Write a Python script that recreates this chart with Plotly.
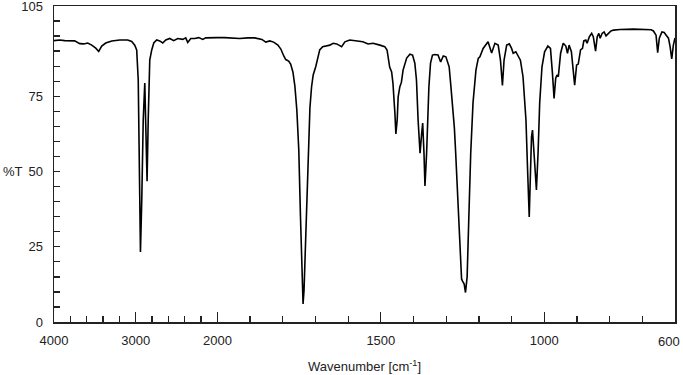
import plotly.graph_objects as go

# IR spectrum (wavenumber in cm-1, transmittance in %T)
wavenumber = [
    4000, 3930, 3869, 3808, 3747, 3685, 3636, 3587, 3538, 3489, 3453, 3416, 3367, 3293,
    3196, 3098, 3049, 3012, 2988, 2969, 2957, 2942, 2926, 2908, 2889, 2875, 2861, 2847,
    2828, 2804, 2779, 2743, 2706, 2669, 2632, 2583, 2535, 2486, 2424, 2388, 2363, 2326,
    2277, 2228, 2179, 2143, 2094, 2045, 2000,
    1978, 1956, 1932, 1907, 1886, 1864, 1852, 1840, 1828, 1815, 1806, 1797, 1791, 1782,
    1776, 1769, 1763, 1757, 1751, 1746, 1741, 1738, 1735, 1731, 1728, 1723, 1717, 1712,
    1707, 1699, 1692, 1687, 1678, 1665, 1656, 1646, 1635, 1620, 1610, 1595, 1574, 1555,
    1539, 1524, 1503, 1488, 1481, 1476, 1473, 1467, 1463, 1457, 1454, 1450, 1447, 1442,
    1437, 1432, 1421, 1411, 1403, 1396, 1391, 1386, 1380, 1375, 1372, 1368, 1365, 1360,
    1357, 1353, 1348, 1342, 1335, 1325, 1317, 1309, 1301, 1291, 1286, 1281, 1275, 1271,
    1264, 1256, 1253, 1250, 1245, 1241, 1236, 1231, 1225, 1218, 1209, 1202, 1197, 1187,
    1172, 1161, 1151, 1141, 1134, 1128, 1123, 1115, 1107, 1100, 1095, 1087, 1080, 1073,
    1065, 1056, 1051, 1046, 1042, 1039, 1036, 1032, 1027, 1024, 1019, 1014, 1007, 999,
    989, 981, 975, 970, 965, 961, 957, 950, 942, 934, 929, 924, 917, 913, 907, 901, 896,
    889, 883, 879, 873, 869, 862, 855, 850, 843, 838, 833, 829, 823, 817, 811, 804, 796,
    788, 768, 727, 686, 673, 666, 658, 653, 648, 640, 633, 627, 623, 620, 615, 610, 605, 600,
]
transmittance = [
    93.5, 93.7, 93.5, 93.5, 93.4, 92.5, 92.4, 92.7, 92.0, 91.0, 89.9, 91.7, 92.7, 93.4,
    93.7, 93.7, 93.2, 92.0, 90.4, 80.4, 57.1, 23.3, 40.5, 67.1, 79.4, 63.8, 46.8, 67.1,
    87.0, 90.4, 92.7, 93.7, 93.4, 92.7, 93.7, 94.2, 93.5, 94.2, 93.9, 94.4, 92.9, 94.2,
    94.2, 94.5, 93.9, 94.4, 94.5, 94.4, 94.5,
    94.5, 94.4, 94.2, 94.4, 94.4, 93.9, 93.0, 93.4, 93.0, 92.0, 90.7, 88.4, 87.2, 86.7,
    85.7, 83.1, 78.4, 70.4, 57.1, 35.5, 15.6, 6.0, 10.6, 23.9, 39.5, 58.1, 71.1, 78.1,
    82.1, 84.9, 88.0, 90.4, 91.5, 91.7, 92.0, 92.6, 92.4, 91.5, 93.1, 93.7, 93.4, 93.1,
    92.4, 92.6, 92.0, 91.5, 90.4, 87.0, 84.7, 83.1, 79.4, 69.4, 62.5, 67.1, 74.8, 78.1,
    79.7, 83.7, 87.7, 89.0, 88.7, 86.0, 80.4, 67.1, 56.1, 62.8, 66.1, 56.1, 45.2, 56.1,
    67.1, 78.1, 86.0, 88.7, 88.9, 88.7, 86.4, 88.4, 88.1, 84.8, 78.7, 72.8, 64.5, 56.1,
    39.5, 22.9, 14.3, 13.6, 12.6, 9.8, 15.0, 33.9, 56.1, 72.8, 83.7, 87.6, 88.1, 90.9,
    93.1, 89.4, 92.6, 92.0, 87.0, 78.6, 87.0, 92.0, 92.4, 90.9, 89.3, 89.8, 88.1, 87.0,
    81.5, 67.1, 50.5, 34.9, 50.5, 61.5, 63.8, 58.1, 48.8, 43.9, 56.1, 72.8, 84.8, 89.8,
    91.7, 90.9, 82.7, 74.3, 81.0, 82.1, 81.5, 89.3, 92.6, 91.7, 89.3, 92.0, 89.8, 85.4,
    78.7, 85.4, 85.7, 90.4, 90.9, 93.4, 93.7, 92.6, 94.8, 95.9, 94.8, 90.0, 94.8, 95.9,
    94.3, 95.9, 96.4, 95.1, 95.9, 96.7, 97.0, 97.2, 97.3, 97.2, 97.1, 96.7, 95.3, 89.5,
    94.3, 96.4, 96.2, 95.3, 94.8, 94.3, 91.5, 87.4, 92.0, 94.4,
]

major_ticks = [4000, 3000, 2000, 1500, 1000]
edge_label = 600
minor_ticks = [3800, 3600, 3400, 3200, 2800, 2600, 2400, 2200,
               1900, 1800, 1700, 1600, 1400, 1300, 1200, 1100, 900, 800, 700]
y_labels = [0, 25, 50, 75, 105]
y_minor = list(range(0, 106, 5))


def wn_scale(w):
    """Instrument scale: 4x expanded below 2000 cm-1."""
    return (4000 - w) / 4.0 if w >= 2000 else 500 + (2000 - w)


xs = [wn_scale(w) for w in wavenumber]

fig = go.Figure()
fig.add_trace(go.Scatter(x=xs, y=transmittance, mode="lines",
                         line=dict(color="black", width=1.6), hoverinfo="skip"))

font = dict(family="Liberation Sans, Arial, sans-serif", size=13, color="#222")

fig.update_layout(
    width=683, height=375,
    margin=dict(l=54, r=8, t=6, b=53),
    paper_bgcolor="white", plot_bgcolor="white",
    showlegend=False,
    font=font,
    xaxis=dict(
        range=[wn_scale(4000), wn_scale(edge_label)],
        automargin=False,
        tickmode="array",
        tickvals=[wn_scale(w) for w in major_ticks],
        ticktext=[str(w) for w in major_ticks],
        ticks="inside", ticklen=10, tickwidth=1.3, tickcolor="#222",
        minor=dict(tickmode="array", tickvals=[wn_scale(w) for w in minor_ticks],
                   ticks="inside", ticklen=6, tickwidth=1.3, tickcolor="#222"),
        showgrid=False, zeroline=False,
        showline=True, linecolor="#222", linewidth=1.5, mirror=True,
        ticklabelstandoff=6, ticklabeloverflow="allow",
        title=dict(text="Wavenumber [cm<sup>-1</sup>]", font=font, standoff=15),
    ),
    yaxis=dict(
        range=[0, 105],
        automargin=False,
        tickmode="array",
        tickvals=y_labels,
        ticktext=[str(v) for v in y_labels],
        ticks="inside", ticklen=6, tickwidth=1.3, tickcolor="#222",
        minor=dict(tickmode="array", tickvals=y_minor,
                   ticks="inside", ticklen=6, tickwidth=1.3, tickcolor="#222"),
        showgrid=False, zeroline=False,
        showline=True, linecolor="#222", linewidth=1.5, mirror=True,
        ticklabelstandoff=7, ticklabeloverflow="allow",
    ),
)

fig.add_annotation(text="%T", xref="paper", yref="y", x=0, y=50,
                   xanchor="right", yanchor="middle", xshift=-29,
                   showarrow=False, font=font)
# the 600 label sits at the right frame edge, nudged inward as in the reference
fig.add_annotation(text=str(edge_label), xref="paper", yref="paper",
                   x=1, y=0, xanchor="right", yanchor="top", xshift=7, yshift=-10,
                   showarrow=False, font=font)

fig.write_html("out.html",
               config={"displayModeBar": False, "staticPlot": True},
               post_script="document.body.style.margin='0px';"
                           "document.body.style.overflow='hidden';")
